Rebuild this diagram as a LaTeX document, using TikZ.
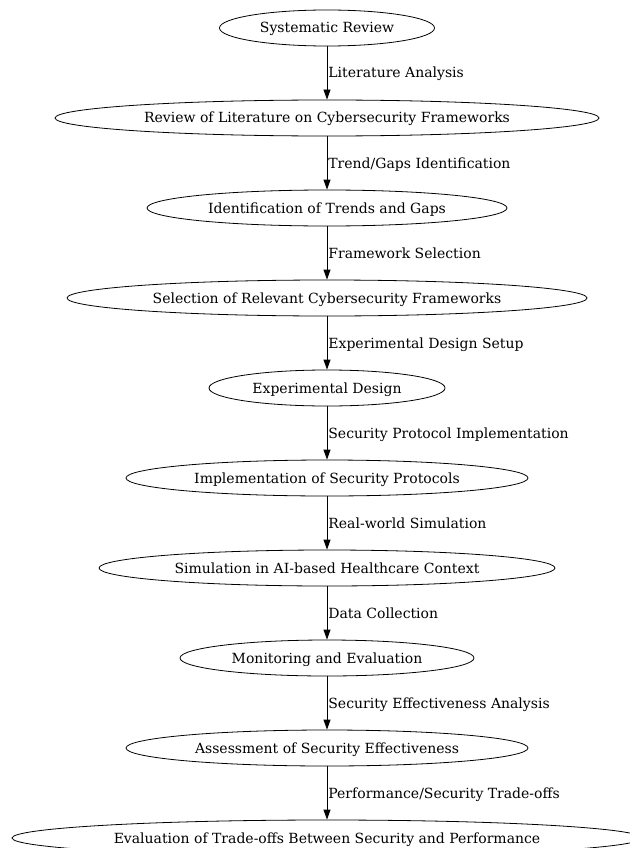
\documentclass[tikz,border=0pt]{standalone}
\usepackage{fontspec}
\setmainfont{DejaVu Serif}
\usetikzlibrary{shapes.geometric,arrows.meta}
\begin{document}
\begin{tikzpicture}[x=1pt,y=-1pt,
  stage/.style={ellipse,draw,line width=0.8pt,inner sep=0pt,minimum height=36pt,text height=13pt,text depth=3pt,font=\fontsize{14}{16}\selectfont},
  lbl/.style={anchor=west,inner sep=0pt,text height=13pt,text depth=3pt,font=\fontsize{14}{16}\selectfont},
  flow/.style={draw,line width=0.8pt,-{Triangle[length=10pt,width=7pt]}}]
\useasboundingbox (0,0) rectangle (629,848);
\node[stage,minimum width=215pt] (n1) at (327,28) {Systematic Review};
\node[stage,minimum width=544pt] (n2) at (327,118) {Review of Literature on Cybersecurity Frameworks};
\node[stage,minimum width=360pt] (n3) at (327,208) {Identification of Trends and Gaps};
\node[stage,minimum width=520pt] (n4) at (327,298) {Selection of Relevant Cybersecurity Frameworks};
\node[stage,minimum width=236pt] (n5) at (327,388) {Experimental Design};
\node[stage,minimum width=402pt] (n6) at (327,478) {Implementation of Security Protocols};
\node[stage,minimum width=456pt] (n7) at (327,568) {Simulation in AI-based Healthcare Context};
\node[stage,minimum width=294pt] (n8) at (327,658) {Monitoring and Evaluation};
\node[stage,minimum width=402pt] (n9) at (327,748) {Assessment of Security Effectiveness};
\node[stage,minimum width=630pt] (n10) at (327,838) {Evaluation of Trade-offs Between Security and Performance};
\foreach \a/\b/\t in {n1/n2/Literature Analysis, n2/n3/Trend\slash Gaps Identification, n3/n4/Framework Selection, n4/n5/Experimental Design Setup, n5/n6/Security Protocol Implementation, n6/n7/Real-world Simulation, n7/n8/Data Collection, n8/n9/Security Effectiveness Analysis, n9/n10/Performance\slash Security Trade-offs}{
  \draw[flow] (\a.south) -- (\b.north) node[midway,lbl,xshift=1pt] {\t};
}
\end{tikzpicture}
\end{document}
